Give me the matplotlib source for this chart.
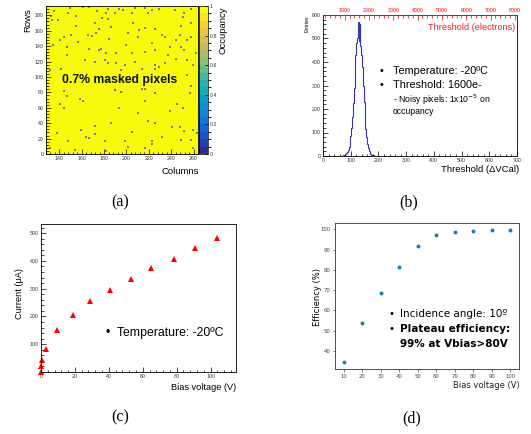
import numpy as np
import matplotlib
matplotlib.use("Agg")
import matplotlib.pyplot as plt
from matplotlib.colors import LinearSegmentedColormap, BoundaryNorm
from matplotlib.ticker import MultipleLocator
import matplotlib.colorbar as mcolorbar

# ---------------- data ----------------
# (a) masked pixels (column, row) in the RD53A linear front end
masked_cols = [135, 149, 161, 166, 173, 183, 193, 207, 216, 222, 229, 243, 251, 257,
               147, 154, 181, 189, 196, 204, 219, 250, 183, 132, 138, 178, 154, 171,
               175, 186, 205, 216, 211, 225, 248, 257, 247, 201, 231, 133, 144, 150,
               165, 169, 172, 140, 156, 184, 210, 234, 244, 254, 257, 134, 146, 166,
               175, 177, 199, 222, 238, 248, 190, 204, 216, 225, 251, 146, 181, 162,
               171, 180, 183, 190, 198, 207, 225, 234, 237, 244, 254, 259, 262, 225,
               229, 131, 141, 195, 213, 254,
               144, 146, 140, 144, 158, 161, 189, 195, 213, 216, 225, 256, 257, 216,
               193, 210, 238, 245, 250, 171, 186, 219, 225, 240, 247, 251, 259, 263,
               137, 159, 171, 163, 166, 204, 147, 180, 198, 222, 231, 248, 153, 181,
               201, 216, 222, 259, 257, 131]
masked_rows = [185, 189, 190, 190, 185, 187, 188, 189, 189, 186, 187, 186, 182, 187,
               182, 179, 182, 182, 186, 182, 182, 177, 175, 179, 173, 176, 165, 169,
               162, 164, 169, 163, 160, 162, 166, 169, 154, 156, 154, 173, 151, 154,
               154, 152, 156, 147, 145, 149, 151, 151, 147, 147, 151, 141, 138, 136,
               134, 136, 141, 143, 138, 138, 130, 130, 132, 134, 134, 128, 130, 121,
               119, 121, 117, 117, 115, 119, 115, 117, 128, 123, 121, 115, 130, 110,
               112, 108, 110, 108, 110, 102,
               81, 75, 65, 59, 71, 68, 83, 80, 84, 84, 79, 78, 88, 68,
               59, 53, 55, 64, 59, 36, 40, 42, 40, 35, 35, 29, 31, 27,
               27, 31, 25, 22, 20, 28, 17, 16, 16, 16, 22, 18, 5, 4,
               9, 7, 12, 7, 18, 7]
col_range = (128, 264)
row_range = (0, 192)
occ_ticks = [0, 0.2, 0.4, 0.6, 0.8, 1]

# (b) threshold distribution
thr_centers = [61.5, 64.5, 67.5, 70.5, 73.5, 76.5, 79.5, 82.5, 85.5, 88.5, 91.5, 94.5,
               97.5, 100.5, 103.5, 106.5, 109.5, 112.5, 115.5, 118.5, 121.5, 124.5,
               127.5, 130.5, 133.5, 136.5, 139.5, 142.5, 145.5, 148.5, 151.5, 154.5,
               157.5, 160.5, 163.5, 166.5, 169.5, 172.5, 175.5, 178.5, 181.5, 184.5,
               187.5, 190.5, 193.5, 196.5, 199.5]
thr_counts = [0, 1, 1, 2, 3, 4, 6, 8, 12, 18, 26, 38, 58, 85, 120, 165, 225, 290, 360,
              430, 480, 500, 570, 490, 560, 470, 430, 380, 300, 230, 165, 115, 80, 52,
              33, 20, 12, 8, 5, 3, 3, 2, 2, 1, 1, 0, 0]
electron_ticks = [1000, 2000, 3000, 4000, 5000, 6000, 7000, 8000]

# (c) IV curve
bias_iv = [0, 0, 0.8, 2.7, 9.4, 18.8, 29, 40.6, 53, 65, 78.4, 91, 104]
current = [0, 21, 45, 83, 151, 205, 254, 296, 335, 376, 407, 446, 481]

# (d) efficiency
bias_eff = [10, 20, 30, 40, 50, 60, 70, 80, 90, 100]
efficiency = [34.4, 53.8, 68.4, 81.4, 91.9, 97.0, 98.5, 99.2, 99.7, 99.8]

# ---------------- layout helpers ----------------
W, H = 531, 434
fig = plt.figure(figsize=(W / 100, H / 100), dpi=100)
fig.patch.set_facecolor("white")


def rect(x0, y0, x1, y1):
    return [x0 / W, 1 - y1 / H, (x1 - x0) / W, (y1 - y0) / H]


def fx(x):
    return x / W


def fy(y):
    return 1 - y / H


ROOT = ["Liberation Sans", "DejaVu Sans"]
TICK_FS = 3.8
LAB_FS = 6.3


def root_axes(ax):
    ax.tick_params(which="both", direction="in", labelsize=TICK_FS, labelcolor="#333333",
                   width=0.5, pad=1.5, top=False, right=False)
    ax.tick_params(which="major", length=3.5)
    ax.tick_params(which="minor", length=1.8)
    for s in ax.spines.values():
        s.set_linewidth(0.6)
    for lab in ax.get_xticklabels() + ax.get_yticklabels():
        lab.set_family(ROOT)


# kBird palette
stops = [0.0, 0.125, 0.25, 0.375, 0.5, 0.625, 0.75, 0.875, 1.0]
red = [0.2082, 0.0592, 0.0780, 0.0232, 0.1802, 0.5301, 0.8186, 0.9956, 0.9764]
green = [0.1664, 0.3599, 0.5041, 0.6419, 0.7178, 0.7492, 0.7328, 0.7862, 0.9832]
blue = [0.5293, 0.8684, 0.8385, 0.7914, 0.6425, 0.4662, 0.3499, 0.1968, 0.0539]
bird = LinearSegmentedColormap.from_list(
    "bird", [(s, (r, g, b)) for s, r, g, b in zip(stops, red, green, blue)])

# ---------------- (a) ----------------
axA = fig.add_axes(rect(46, 6, 198, 154))
occ = np.ones((row_range[1] - row_range[0], col_range[1] - col_range[0]))
axA.imshow(occ, cmap=bird, vmin=0, vmax=1, origin="lower", aspect="auto",
           extent=[col_range[0], col_range[1], row_range[0], row_range[1]],
           interpolation="nearest")
axA.scatter(np.array(masked_cols) + 0.5, np.array(masked_rows) + 0.5, marker="s", s=1.2,
            color="#7a7c8e", linewidths=0)
axA.set_xlim(*col_range)
axA.set_ylim(*row_range)
axA.xaxis.set_major_locator(MultipleLocator(20))
axA.xaxis.set_minor_locator(MultipleLocator(4))
axA.yaxis.set_major_locator(MultipleLocator(20))
axA.yaxis.set_minor_locator(MultipleLocator(4))
root_axes(axA)
axA.text(0.484, 0.5, "0.7% masked pixels", transform=axA.transAxes, ha="center",
         va="center", fontsize=8.8, fontweight="bold", family=ROOT, color="#111111")

caxA = fig.add_axes(rect(199, 6, 208, 154))
levels = np.linspace(0, 1, 21)
cb = mcolorbar.ColorbarBase(caxA, cmap=bird, norm=BoundaryNorm(levels, bird.N),
                            boundaries=levels, ticks=occ_ticks)
cb.outline.set_linewidth(0.5)
cb.set_ticklabels([f"{t:g}" for t in occ_ticks])
caxA.tick_params(direction="in", length=2.5, width=0.5, labelsize=TICK_FS,
                 labelcolor="#333333", pad=1)
for lab in caxA.get_yticklabels():
    lab.set_family(ROOT)
fig.text(fx(223), fy(7), "Occupancy", rotation=90, ha="center", va="top",
         fontsize=LAB_FS + 0.5, family=ROOT)
fig.text(fx(28), fy(8), "Rows", rotation=90, ha="center", va="top",
         fontsize=LAB_FS + 0.5, family=ROOT)
fig.text(fx(199), fy(171), "Columns", ha="right", va="center",
         fontsize=LAB_FS + 0.5, family=ROOT)

# ---------------- (b) ----------------
axB = fig.add_axes(rect(323, 15, 517, 156))
edges = np.append(np.array(thr_centers) - 1.5, thr_centers[-1] + 1.5)
axB.stairs(thr_counts, edges, color="#3535b8", linewidth=0.8)
axB.set_xlim(0, 700)
axB.set_ylim(0, 600)
axB.xaxis.set_major_locator(MultipleLocator(100))
axB.xaxis.set_minor_locator(MultipleLocator(20))
axB.yaxis.set_major_locator(MultipleLocator(100))
axB.yaxis.set_minor_locator(MultipleLocator(20))
root_axes(axB)
axB.spines["top"].set_color("red")

e_per_vcal, e_offset = 11.40, 108.0
sec = axB.secondary_xaxis("top", functions=(lambda v: v * e_per_vcal + e_offset,
                                           lambda e: (e - e_offset) / e_per_vcal))
sec.set_xticks(electron_ticks)
sec.set_xticklabels([str(t) for t in electron_ticks])
sec.xaxis.set_minor_locator(MultipleLocator(200))
sec.tick_params(which="both", direction="in", colors="red", labelsize=TICK_FS,
                width=0.5, pad=1.5)
sec.tick_params(which="major", length=3.5)
sec.tick_params(which="minor", length=1.8)
sec.spines["top"].set_color("red")
sec.spines["top"].set_linewidth(0.6)
for lab in sec.get_xticklabels():
    lab.set_family(ROOT)
fig.text(fx(515), fy(27), "Threshold (electrons)", ha="right", va="center",
         fontsize=LAB_FS + 0.3, family=ROOT, color="#ee2020")
fig.text(fx(307), fy(15), "Entries", rotation=90, ha="center", va="top",
         fontsize=3.8, family=ROOT)
fig.text(fx(519), fy(170), "Threshold (ΔVCal)", ha="right", va="center",
         fontsize=LAB_FS + 0.5, family=ROOT)

BFS = 7.8
fig.text(fx(380), fy(71), "•", ha="left", va="center", fontsize=BFS, family=ROOT)
fig.text(fx(393), fy(71), "Temperature: -20ºC", ha="left", va="center", fontsize=BFS,
         family=ROOT)
fig.text(fx(380), fy(85), "•", ha="left", va="center", fontsize=BFS, family=ROOT)
fig.text(fx(393), fy(85), "Threshold: 1600e-", ha="left", va="center", fontsize=BFS,
         family=ROOT)
fig.text(fx(393), fy(100), "- Noisy pixels: 1x10$^{-5}$ on", ha="left", va="center",
         fontsize=6.2, family=ROOT)
fig.text(fx(393), fy(111), "occupancy", ha="left", va="center", fontsize=6.2, family=ROOT)

# ---------------- (c) ----------------
axC = fig.add_axes(rect(41, 224, 236, 372))
axC.plot(bias_iv, current, linestyle="none", marker="^", markersize=4.2, color="#ff0000",
         markeredgewidth=0, clip_on=False)
axC.set_xlim(0, 115)
axC.set_ylim(0, 533)
axC.set_xticks([0, 20, 40, 60, 80, 100])
axC.xaxis.set_minor_locator(MultipleLocator(4))
axC.set_yticks([100, 200, 300, 400, 500])
axC.yaxis.set_minor_locator(MultipleLocator(20))
root_axes(axC)
fig.text(fx(19), fy(294), "Current (μA)", rotation=90, ha="center", va="center",
         fontsize=LAB_FS + 0.3, family=ROOT)
fig.text(fx(236), fy(387), "Bias voltage (V)", ha="right", va="center",
         fontsize=LAB_FS + 0.3, family=ROOT)
CFS = 8.8
fig.text(fx(106), fy(333), "•", ha="left", va="center", fontsize=CFS, family=ROOT)
fig.text(fx(117), fy(333), "Temperature: -20ºC", ha="left", va="center", fontsize=CFS,
         family=ROOT)

# ---------------- (d) ----------------
axD = fig.add_axes(rect(335, 223, 519, 369))
axD.plot(bias_eff, efficiency, linestyle="none", marker="o", markersize=2.8,
         color="#1f77b4", markeredgewidth=0)
axD.set_xlim(5.3, 104.7)
axD.set_ylim(31, 103.1)
axD.set_xticks(bias_eff)
axD.set_yticks([40, 50, 60, 70, 80, 90, 100])
axD.tick_params(direction="out", length=1.8, width=0.5, labelsize=TICK_FS,
                labelcolor="#444444", color="#444444", pad=1.5)
for s in axD.spines.values():
    s.set_linewidth(0.6)
    s.set_color("#333333")
fig.text(fx(317), fy(297), "Efficiency (%)", rotation=90, ha="center", va="center",
         fontsize=6.0)
fig.text(fx(520), fy(386), "Bias voltage (V)", ha="right", va="center", fontsize=6.0,
         color="#222222")
DFS = 7.5
fig.text(fx(389), fy(314), "•", ha="left", va="center", fontsize=DFS)
fig.text(fx(400), fy(314), "Incidence angle: 10º", ha="left", va="center", fontsize=DFS)
fig.text(fx(389), fy(329), "•", ha="left", va="center", fontsize=DFS)
fig.text(fx(400), fy(329), "Plateau efficiency:", ha="left", va="center", fontsize=DFS,
         fontweight="bold")
fig.text(fx(400), fy(344), "99% at Vbias>80V", ha="left", va="center", fontsize=DFS,
         fontweight="bold")

# ---------------- captions ----------------
CAP = dict(ha="center", va="center", fontsize=11.5, family=["Liberation Serif", "DejaVu Serif"])
fig.text(fx(120), fy(202), "(a)", **CAP)
fig.text(fx(409), fy(202), "(b)", **CAP)
fig.text(fx(120), fy(417), "(c)", **CAP)
fig.text(fx(412), fy(418), "(d)", **CAP)

fig.savefig("out.png", dpi=100)
